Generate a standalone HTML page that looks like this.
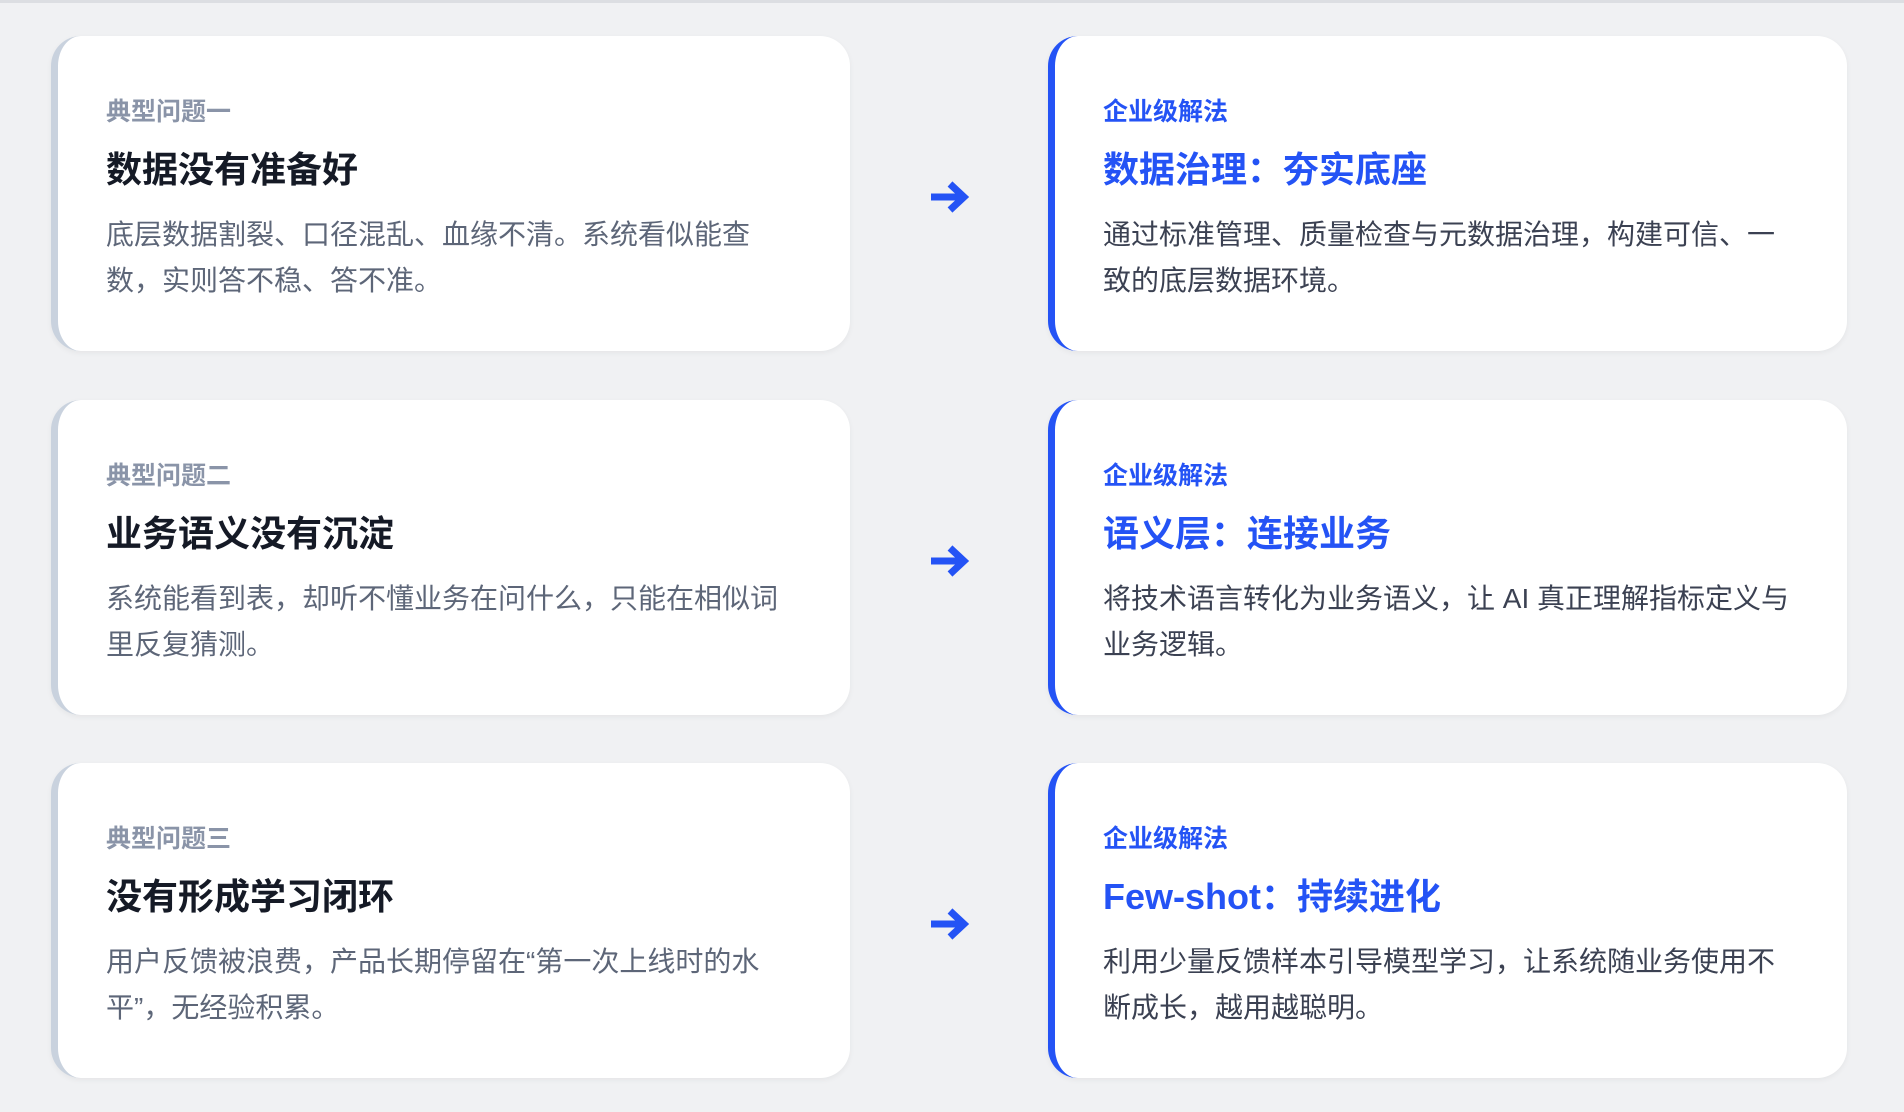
<!DOCTYPE html>
<html><head><meta charset="utf-8"><style>
*{margin:0;padding:0;box-sizing:border-box}
body{width:1904px;height:1112px;background:#f0f1f3;position:relative;overflow:hidden;font-family:"Liberation Sans","Noto Sans CJK SC",sans-serif}
.top{position:absolute;left:0;top:0;width:1904px;height:3px;background:#dcdee2}
.card{position:absolute;width:799px;height:315px;background:#fff;border-radius:30px;box-shadow:0 2px 6px rgba(0,0,0,0.05)}
.l{left:51px;border-left:7px solid #c9d2de}
.r{left:1048px;border-left:7px solid #2453f5}
.lab{position:absolute;left:48px;top:61px;font-size:25px;font-weight:bold;line-height:30px}
.t{position:absolute;left:48px;top:112px;font-size:36px;font-weight:bold;line-height:44px}
.b{position:absolute;left:48px;top:176px;font-size:28px;line-height:46px;width:740px;white-space:nowrap}
.l .lab{color:#8a94a8}.l .t{color:#151a26}.l .b{color:#5d6678}
.r .lab,.r .t{color:#2453f5}.r .b{color:#3b4152}
.arr{position:absolute;left:928px;width:42px;height:36px}
</style></head><body>
<div class="top"></div>
<div class="card l" style="top:36px"><div class="lab">典型问题一</div><div class="t">数据没有准备好</div><div class="b">底层数据割裂、口径混乱、血缘不清。系统看似能查<br>数，实则答不稳、答不准。</div></div>
<div class="card r" style="top:36px"><div class="lab">企业级解法</div><div class="t">数据治理：夯实底座</div><div class="b">通过标准管理、质量检查与元数据治理，构建可信、一<br>致的底层数据环境。</div></div>
<div class="card l" style="top:400px"><div class="lab">典型问题二</div><div class="t">业务语义没有沉淀</div><div class="b">系统能看到表，却听不懂业务在问什么，只能在相似词<br>里反复猜测。</div></div>
<div class="card r" style="top:400px"><div class="lab">企业级解法</div><div class="t">语义层：连接业务</div><div class="b">将技术语言转化为业务语义，让 AI 真正理解指标定义与<br>业务逻辑。</div></div>
<div class="card l" style="top:763px"><div class="lab">典型问题三</div><div class="t">没有形成学习闭环</div><div class="b">用户反馈被浪费，产品长期停留在“第一次上线时的水<br>平”，无经验积累。</div></div>
<div class="card r" style="top:763px"><div class="lab">企业级解法</div><div class="t">Few-shot：持续进化</div><div class="b">利用少量反馈样本引导模型学习，让系统随业务使用不<br>断成长，越用越聪明。</div></div>
<svg class="arr" style="top:179px" viewBox="0 0 42 36"><path d="M3 18H34M22 5L36 18L22 31" stroke="#2453f5" stroke-width="7" fill="none"/></svg>
<svg class="arr" style="top:543px" viewBox="0 0 42 36"><path d="M3 18H34M22 5L36 18L22 31" stroke="#2453f5" stroke-width="7" fill="none"/></svg>
<svg class="arr" style="top:906px" viewBox="0 0 42 36"><path d="M3 18H34M22 5L36 18L22 31" stroke="#2453f5" stroke-width="7" fill="none"/></svg>
</body></html>
